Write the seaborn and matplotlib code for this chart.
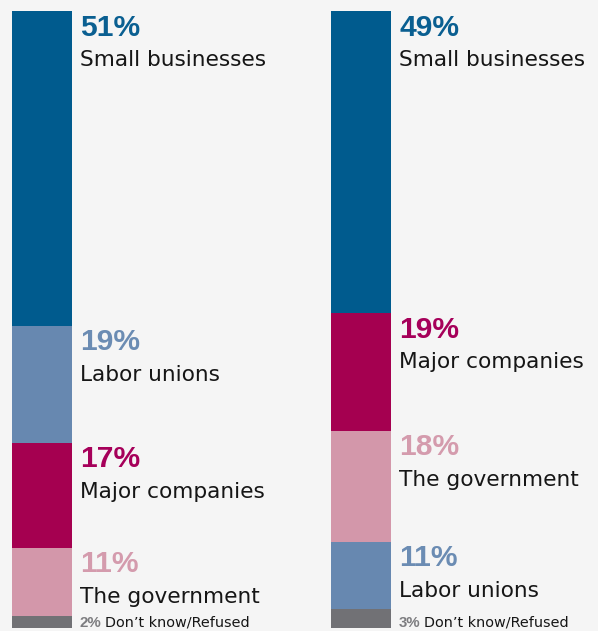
import numpy as np
import matplotlib
matplotlib.use("Agg")
import matplotlib.pyplot as plt
import seaborn as sns

# Share of responses, top to bottom, for each of the two stacked columns
panels = ["First", "Second"]
first_labels = ["Small businesses", "Labor unions", "Major companies", "The government", "Don\u2019t know/Refused"]
first_values = [51, 19, 17, 11, 2]
second_labels = ["Small businesses", "Major companies", "The government", "Labor unions", "Don\u2019t know/Refused"]
second_values = [49, 19, 18, 11, 3]

BG = "#f5f5f5"
BAR_COLORS = {
    "Small businesses": "#005b8e",
    "Labor unions": "#6788b0",
    "Major companies": "#a50050",
    "The government": "#d397aa",
    "Don\u2019t know/Refused": "#717175",
}
PCT_COLORS = {
    "Small businesses": "#0a5f91",
    "Labor unions": "#6b8cb3",
    "Major companies": "#a6005a",
    "The government": "#d49bad",
    "Don\u2019t know/Refused": "#7d7d80",
}
NAME_COLOR = "#161616"

sns.set_theme(style="white")
plt.rcParams["font.family"] = ["DejaVu Sans"]

fig = plt.figure(figsize=(5.98, 6.31), dpi=100)
fig.patch.set_facecolor(BG)
ax = fig.add_axes([0, 0, 1, 1])
ax.set_facecolor(BG)

BAR_W = 60 / 319

series = [(first_labels, first_values), (second_labels, second_values)]
for i, (panel, (labels, values)) in enumerate(zip(panels, series)):
    values = np.array(values)
    cum = np.cumsum(values)
    tops = cum - values
    # stack by overlaying cumulative bars, longest first
    for idx in np.argsort(-cum):
        sns.barplot(x=[panel], y=[cum[idx]], order=panels, color=BAR_COLORS[labels[idx]],
                    saturation=1, width=BAR_W, linewidth=0, errorbar=None, ax=ax)

    xr = i + BAR_W / 2
    for lab, v, top in zip(labels[:-1], values[:-1], tops[:-1]):
        ax.annotate(f"{v}%", (xr, top), xytext=(8, -24.5), textcoords="offset pixels",
                    ha="left", va="baseline", fontsize=21.6, fontweight="bold",
                    family=["Liberation Sans", "DejaVu Sans"], color=PCT_COLORS[lab])
        ax.annotate(lab, (xr, top), xytext=(8, -55), textcoords="offset pixels",
                    ha="left", va="baseline", fontsize=15.6, color=NAME_COLOR)

    # the small residual share sits on the baseline of the column
    lab, v = labels[-1], values[-1]
    ax.annotate(f"{v}%", (xr, cum[-1]), xytext=(8, 1), textcoords="offset pixels",
                ha="left", va="baseline", fontsize=10.8, fontweight="bold",
                family=["Liberation Sans", "DejaVu Sans"], color=PCT_COLORS[lab])
    ax.annotate(lab, (xr, cum[-1]), xytext=(33, 1), textcoords="offset pixels",
                ha="left", va="baseline", fontsize=10.4, color=NAME_COLOR)

ax.set_xlim(-42 / 319, 1 + 237 / 319)
ax.set_ylim(100 + 3 / 6.17, -11 / 6.17)
ax.set_xlabel("")
ax.set_ylabel("")
ax.set_xticks([])
ax.set_yticks([])
for s in ax.spines.values():
    s.set_visible(False)

fig.savefig("out.png", dpi=100, facecolor=BG)
